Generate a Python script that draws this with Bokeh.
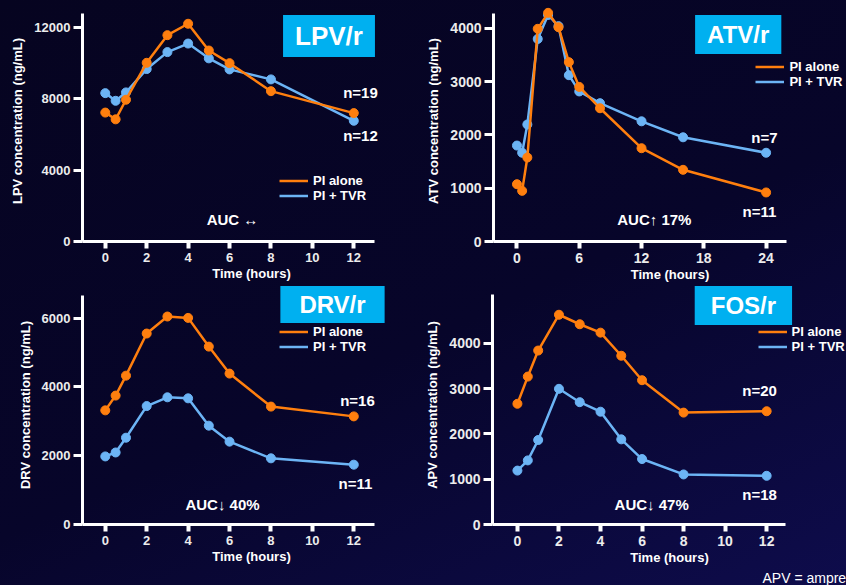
from bokeh.plotting import figure
from bokeh.models import Range1d, FixedTicker, Label, Legend, LegendItem, Title
from bokeh.layouts import column, row
from bokeh.embed import file_html
from bokeh.resources import INLINE

FONT = "Liberation Sans"
ORANGE = "#FF7F0E"
BLUE = "#6CB4F5"
CYAN = "#00B0F0"
WHITE = "#FFFFFF"
TICKCOL = "#ECECEC"

# ---------------- data ----------------
lpv_time = [0, 0.5, 1, 2, 3, 4, 5, 6, 8, 12]
lpv_alone = [7230, 6850, 7950, 10020, 11570, 12210, 10710, 10000, 8430, 7200]
lpv_tvr = [8320, 7890, 8360, 9670, 10620, 11100, 10270, 9650, 9090, 6770]

atv_time = [0, 0.5, 1, 2, 3, 4, 5, 6, 8, 12, 16, 24]
atv_alone = [1075, 950, 1575, 3990, 4290, 4020, 3365, 2900, 2500, 1750, 1345, 920]
atv_tvr = [1800, 1665, 2195, 3800, 4250, 4040, 3120, 2815, 2595, 2255, 1955, 1665]

drv_time = [0, 0.5, 1, 2, 3, 4, 5, 6, 8, 12]
drv_alone = [3320, 3750, 4330, 5555, 6050, 6010, 5175, 4390, 3430, 3145]
drv_tvr = [1980, 2095, 2525, 3445, 3700, 3670, 2875, 2410, 1925, 1740]

apv_time = [0, 0.5, 1, 2, 3, 4, 5, 6, 8, 12]
apv_alone = [2665, 3265, 3840, 4630, 4420, 4235, 3725, 3185, 2470, 2500]
apv_tvr = [1190, 1415, 1865, 2995, 2700, 2490, 1880, 1445, 1105, 1075]

series_names = ["PI alone", "PI + TVR"]

x_ticks_12 = [0, 2, 4, 6, 8, 10, 12]
x_ticks_24 = [0, 6, 12, 18, 24]
lpv_yticks = [0, 4000, 8000, 12000]
atv_yticks = [0, 1000, 2000, 3000, 4000]
drv_yticks = [0, 2000, 4000, 6000]
apv_yticks = [0, 1000, 2000, 3000, 4000]


def make_panel(g):
    ox, oy, w, h = g["box"]
    # axis box (where the drawn axes lie), in page pixels
    al, ar, at, ab = g["frame"]
    x0, x1 = g["xr"]
    y0, y1 = g["yr"]
    sx = (x1 - x0) / (ar - al)          # data units per pixel
    sy = (y1 - y0) / (ab - at)
    # plotting frame spans to the canvas' right and top edges so that
    # annotations outside the axes are not clipped
    fr = ox + w
    ft = oy
    xr_end = x0 + (fr - al) * sx
    yr_end = y0 + (ab - ft) * sy
    bl = int(round(al - ox))
    bb = int(round(oy + h - ab))
    p = figure(width=w, height=h, output_backend="svg", toolbar_location=None,
               x_range=Range1d(x0, xr_end), y_range=Range1d(y0, yr_end),
               min_border_left=bl, min_border_right=0,
               min_border_top=0, min_border_bottom=bb)
    p.background_fill_alpha = 0
    p.border_fill_alpha = 0
    p.outline_line_color = None
    p.grid.grid_line_color = None

    for ax in (p.xaxis[0], p.yaxis[0]):
        ax.axis_line_color = WHITE
        ax.axis_line_width = 3
        ax.major_tick_line_color = WHITE
        ax.major_tick_line_width = 3
        ax.major_tick_in = 0
        ax.minor_tick_line_color = None
        ax.major_label_text_color = TICKCOL
        ax.major_label_text_font = FONT
        ax.major_label_text_font_style = "bold"
        ax.axis_label_text_color = WHITE
        ax.axis_label_text_font = FONT
        ax.axis_label_text_font_style = "bold"
        ax.axis_label_text_font_size = "13px"
    xa = p.xaxis[0]
    ya = p.yaxis[0]
    xa.bounds = (x0, x1)
    ya.bounds = (y0, y1)
    xa.ticker = FixedTicker(ticks=g["xticks"])
    ya.ticker = FixedTicker(ticks=g["yticks"])
    xa.major_tick_out = 7
    xa.major_tick_line_width = 4
    ya.major_tick_out = 9
    xa.major_label_standoff = 4
    ya.major_label_standoff = 3
    xa.axis_label_standoff = 1
    ya.axis_label_standoff = 6
    xa.major_label_text_font_size = g["tick_fs"]
    ya.major_label_text_font_size = g["tick_fs"]
    xa.axis_label = "Time (hours)"
    ya.axis_label = g["ylabel"]

    t = g["t"]
    rb = p.line(t, g["tvr"], line_color=BLUE, line_width=2.5)
    p.scatter(t, g["tvr"], size=9, fill_color=BLUE, line_color=BLUE)
    ro = p.line(t, g["alone"], line_color=ORANGE, line_width=2.5)
    p.scatter(t, g["alone"], size=9, fill_color=ORANGE, line_color=ORANGE)

    def d(X, Y):
        return x0 + (X - al) * sx, y0 + (ab - Y) * sy

    lx, ly = g["legend"]
    leg = Legend(items=[LegendItem(label=series_names[0], renderers=[ro]),
                        LegendItem(label=series_names[1], renderers=[rb])],
                 location=(lx - al, ab - ly), orientation="vertical",
                 background_fill_alpha=0, border_line_alpha=0,
                 label_text_color=WHITE, label_text_font=FONT,
                 label_text_font_style="bold", label_text_font_size="13px",
                 glyph_width=29, glyph_height=15, label_height=15,
                 label_standoff=5, spacing=0, padding=0, margin=0)
    p.add_layout(leg, "center")

    for txt, X, Y in g["texts"]:
        x, y = d(X, Y)
        p.add_layout(Label(x=x, y=y, text=txt, text_align="center",
                           text_baseline="middle", text_color=WHITE,
                           text_font=FONT, text_font_style="bold",
                           text_font_size="15px"))

    btxt, bx, by, bfs, padv, padh = g["badge"]
    x, y = d(bx, by)
    p.add_layout(Label(x=x, y=y, text=btxt, text_align="center",
                       text_baseline="middle", text_color=WHITE,
                       text_font=FONT, text_font_style="bold",
                       text_font_size=bfs, background_fill_color=CYAN,
                       padding=dict(left=padh, right=padh, top=padv, bottom=padv)))

    for txt, X in g.get("notes", []):
        p.add_layout(Title(text=txt, align="left", offset=X - al, standoff=0,
                           text_color=WHITE, text_font=FONT,
                           text_font_style="normal", text_font_size="14px"),
                     "below")
    return p


panels = [
    dict(box=(0, 0, 420, 285), frame=(82, 374, 13, 241), xr=(-1.1, 13.0), yr=(0, 12785),
         t=lpv_time, alone=lpv_alone, tvr=lpv_tvr, xticks=x_ticks_12, yticks=lpv_yticks,
         ylabel="LPV concentration (ng/mL)", tick_fs="13px", legend=(279, 202.5),
         texts=[("n=19", 360, 92), ("n=12", 360, 135), ("AUC \u2194", 232, 219)],
         badge=("LPV/r", 328.5, 35.5, "26px", 6, 12)),
    dict(box=(420, 0, 426, 285), frame=(493.3, 785.7, 12.7, 241), xr=(-2.26, 25.93), yr=(0, 4283),
         t=atv_time, alone=atv_alone, tvr=atv_tvr, xticks=x_ticks_24, yticks=atv_yticks,
         ylabel="ATV concentration (ng/mL)", tick_fs="14px", legend=(755.7, 89.2),
         texts=[("n=7", 764, 137), ("n=11", 759, 211), ("AUC\u2191 17%", 654, 219)],
         badge=("ATV/r", 737.8, 34, "24px", 6, 12)),
    dict(box=(0, 285, 420, 300), frame=(82, 374, 295, 523.7), xr=(-1.1, 13.0), yr=(0, 6661),
         t=drv_time, alone=drv_alone, tvr=drv_tvr, xticks=x_ticks_12, yticks=drv_yticks,
         ylabel="DRV concentration (ng/mL)", tick_fs="13px", legend=(279, 353.5),
         texts=[("n=16", 357, 400), ("n=11", 355, 483), ("AUC\u2193 40%", 222, 504)],
         badge=("DRV/r", 332, 304, "24px", 5, 19)),
    dict(box=(420, 285, 426, 300), frame=(491.7, 785, 294.3, 523.7), xr=(-1.2, 12.91), yr=(0, 5070),
         t=apv_time, alone=apv_alone, tvr=apv_tvr, xticks=x_ticks_12, yticks=apv_yticks,
         ylabel="APV concentration (ng/mL)", tick_fs="14px", legend=(757.3, 353.5),
         texts=[("n=20", 759, 390), ("n=18", 759, 494), ("AUC\u2193 47%", 651, 504)],
         badge=("FOS/r", 742.8, 305, "24px", 6, 16)),
]
panels[3]["notes"] = [("APV = amprenavir", 761.7)]

figs = [make_panel(g) for g in panels]

p = column(row(figs[0], figs[1], spacing=0), row(figs[2], figs[3], spacing=0),
           spacing=0,
           styles={"background": "linear-gradient(155deg, #060420 0%, #07052a 55%, #0e0c4c 100%)"})

open("out.html", "w").write(file_html(p, INLINE))
